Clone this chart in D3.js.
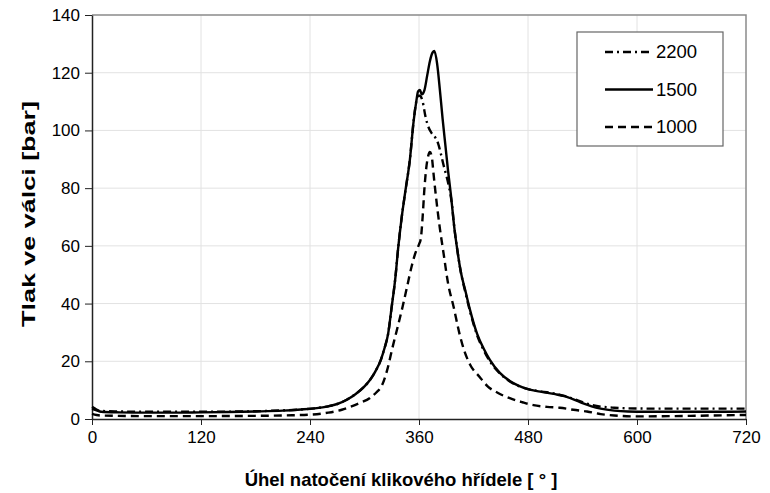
<!DOCTYPE html>
<html>
<head>
<meta charset="utf-8">
<script src="https://cdn.jsdelivr.net/npm/d3@7"></script>
<style>
  body { margin: 0; background: #fff; }
  svg { font-family: "Liberation Sans", Arial, sans-serif; }
  .grid line { stroke: #e2e2e2; stroke-width: 1; }
  .axis path, .axis line { stroke: #222; }
  .axis text { font-size: 17px; fill: #000; }
</style>
</head>
<body>
<div id="vis"></div>
<script>
// series data: angle [deg] / pressure [bar]
var rpm1500Angle = [0,5,10,30,60,90,120,150,180,210,230,245,260,270,280,290,300,306,312,318,322,326,330,334,337,341,345,350,354,357,359,361,363,366,369,372,375,377,380,383,386,389,392,395,399,402,406,411,416,424,431,438,449,460,470,482,495,510,520,530,540,550,560,575,590,610,650,690,720];
var rpm1500Bar   = [3.5,3.0,2.5,2.3,2.2,2.2,2.3,2.4,2.6,2.9,3.3,3.7,4.4,5.2,6.6,8.6,11.3,13.5,16.5,20.5,24.5,29.5,39,49,59,70,79,90,103,110,113.5,114,112.5,114,119,124,127,127.5,123,114,104,95,86,78,66,59,51,44.5,38,29.5,24.5,20.5,16,13.2,11.5,10.2,9.4,8.6,7.9,6.8,5.5,4.4,3.6,2.9,2.6,2.5,2.5,2.5,2.6];

var rpm2200Angle = [0,5,10,30,60,120,180,210,230,245,260,270,280,290,300,306,312,318,322,326,330,334,337,341,345,350,354,357,359,361,364,367,370,374,378,381,384,387,390,393,396,399,402,406,411,416,424,431,438,449,460,470,482,495,510,520,530,540,550,560,575,590,620,680,720];
var rpm2200Bar   = [4.2,3.3,2.8,2.6,2.5,2.5,2.7,3.0,3.3,3.7,4.4,5.2,6.6,8.6,11.3,13.5,16.5,20.5,24.5,29.5,39,49,59,70,79,90,103,110,112,112,110,105,101.5,99,97.5,95.5,92,88,84.5,80.5,75,66,59,51,44,37.5,29,24,20,15.8,13,11.4,10.2,9.5,8.8,8.0,7.0,5.8,4.9,4.3,3.9,3.7,3.6,3.6,3.6];

var rpm1000Angle = [0,5,10,60,120,180,220,240,260,275,284,295,306,313,319,325,331,337,342,347,352,356,360,362,364,366,368,370,372,374,376,378,383,387,392,398,405,410,416,427,435,447,460,474,486,501,515,530,545,560,575,600,640,680,720];
var rpm1000Bar   = [1.8,1.4,1.2,1.0,1.0,1.1,1.3,1.5,2.2,3.2,4.2,5.6,7.3,9.2,11.5,17,25,32.5,39,46,53,57.5,60.5,62.5,70,80,87,91,92.5,91,85,79,66,57.5,47,39,29,23.5,19,14.5,11.5,9,7.2,5.8,4.8,4.2,3.9,3.2,2.6,1.7,1.2,0.9,1.0,1.2,1.4];

var xTicks = [0,120,240,360,480,600,720];
var yTicks = [0,20,40,60,80,100,120,140];
var seriesNames = ["2200","1500","1000"];
var seriesDash = ["8,4,2,4", null, "8,5"];

var margin = {top:15, right:24, bottom:74, left:92},
    width = 770 - margin.left - margin.right,
    height = 493 - margin.top - margin.bottom;

var x = d3.scaleLinear().domain([0,720]).range([0,width]);
var y = d3.scaleLinear().domain([0,140]).range([height,0]);

var svg = d3.select("#vis").append("svg")
    .attr("width", 770)
    .attr("height", 493);

var g = svg.append("g")
    .attr("transform", "translate(" + margin.left + "," + margin.top + ")");

////////// grid //////////
g.append("g").attr("class", "grid")
  .selectAll("line.v").data(xTicks.slice(1, -1)).enter().append("line")
    .attr("x1", x).attr("x2", x).attr("y1", 0).attr("y2", height);
g.append("g").attr("class", "grid")
  .selectAll("line.h").data(yTicks.slice(1, -1)).enter().append("line")
    .attr("x1", 0).attr("x2", width).attr("y1", y).attr("y2", y);

// plot border top / right
g.append("path")
    .attr("d", "M0,0H" + width + "V" + height)
    .attr("fill", "none")
    .attr("stroke", "#8a8a8a")
    .attr("stroke-width", 1.5);

////////// axes //////////
g.append("g").attr("class", "axis")
    .attr("transform", "translate(0," + height + ")")
    .call(d3.axisBottom(x).tickValues(xTicks).tickSize(6).tickSizeOuter(0).tickPadding(6));

g.append("g").attr("class", "axis")
    .call(d3.axisLeft(y).tickValues(yTicks).tickSize(7).tickSizeOuter(0).tickPadding(5));

svg.selectAll(".axis .domain").attr("stroke-width", 1.5);

////////// lines //////////
var line = d3.line()
    .x(function(d) { return x(d[0]); })
    .y(function(d) { return y(d[1]); })
    .curve(d3.curveMonotoneX);

var series = [
  {name: "1000", dash: "8,5", data: d3.zip(rpm1000Angle, rpm1000Bar)},
  {name: "1500", dash: null, data: d3.zip(rpm1500Angle, rpm1500Bar)},
  {name: "2200", dash: "8,4,2,4", data: d3.zip(rpm2200Angle, rpm2200Bar)}
];

g.selectAll(".series").data(series).enter().append("path")
    .attr("class", "series")
    .attr("d", function(d) { return line(d.data); })
    .attr("fill", "none")
    .attr("stroke", "#000")
    .attr("stroke-width", 2.4)
    .attr("stroke-dasharray", function(d) { return d.dash; });

////////// legend //////////
var legend = svg.append("g").attr("transform", "translate(577,32)");
legend.append("rect")
    .attr("width", 146).attr("height", 114)
    .attr("fill", "#fff").attr("stroke", "#666").attr("stroke-width", 1.2);

var item = legend.selectAll(".item").data(seriesNames).enter().append("g")
    .attr("transform", function(d, i) { return "translate(0," + (20 + i * 37.5) + ")"; });
item.append("line")
    .attr("x1", 28).attr("x2", 76)
    .attr("stroke", "#000").attr("stroke-width", 2.6)
    .attr("stroke-dasharray", function(d, i) { return seriesDash[i]; });
item.append("text")
    .attr("x", 79).attr("dy", "0.35em")
    .style("font-size", "18.5px")
    .text(function(d) { return d; });

////////// titles //////////
svg.append("text")
    .attr("x", 401).attr("y", 486)
    .attr("text-anchor", "middle")
    .style("font-size", "18.5px").style("font-weight", "bold")
    .text("Úhel natočení klikového hřídele [ ° ]");

svg.append("text")
    .attr("transform", "translate(35,214) rotate(-90)")
    .attr("text-anchor", "middle")
    .attr("textLength", 226)
    .attr("lengthAdjust", "spacingAndGlyphs")
    .style("font-size", "18.5px").style("font-weight", "bold")
    .text("Tlak ve válci [bar]");
</script>
</body>
</html>
